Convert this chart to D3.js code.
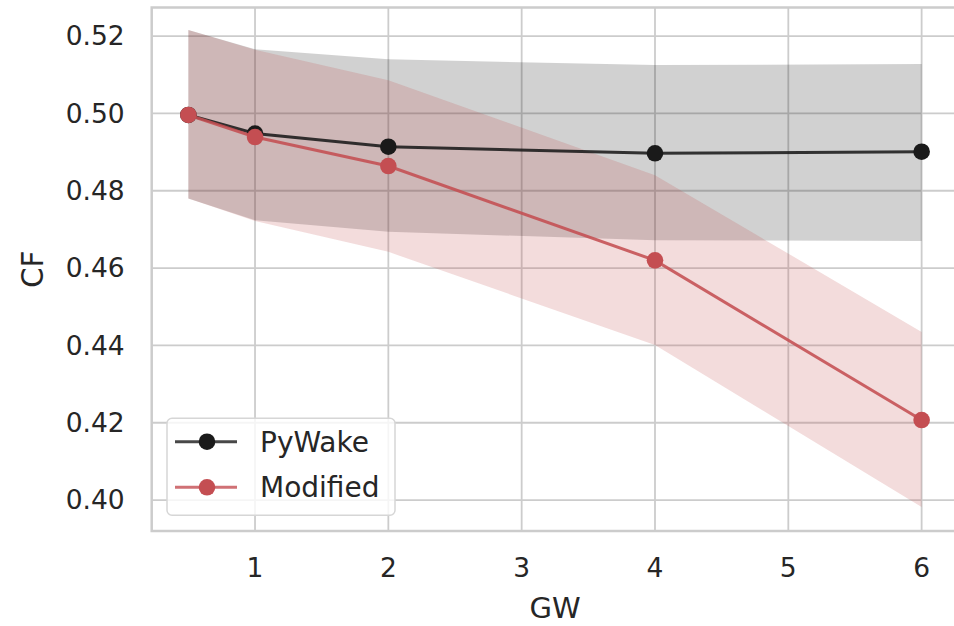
<!DOCTYPE html>
<html>
<head>
<meta charset="utf-8">
<script src="https://cdn.jsdelivr.net/npm/d3@7"></script>
<style>
  body { margin: 0; background: #fff; }
  text { font-family: "DejaVu Sans", sans-serif; fill: #262626; }
</style>
</head>
<body>
<div id="chart"></div>
<script>
// values
const gw = [0.5, 1, 2, 4, 6];
const pywakeMean  = [0.4996, 0.4948, 0.4914, 0.4897, 0.4901];
const pywakeUpper = [0.5216, 0.5166, 0.5140, 0.5125, 0.5128];
const pywakeLower = [0.4780, 0.4724, 0.4694, 0.4672, 0.4670];
const modMean  = [0.4996, 0.4939, 0.4864, 0.4620, 0.4207];
const modUpper = [0.5216, 0.5165, 0.5086, 0.4840, 0.4435];
const modLower = [0.4780, 0.4722, 0.4642, 0.4401, 0.3982];
const xTicks = [1, 2, 3, 4, 5, 6];
const yTicks = [0.40, 0.42, 0.44, 0.46, 0.48, 0.50, 0.52];
const seriesNames = ["PyWake", "Modified"];

const series = [
  {name: seriesNames[0], mean: pywakeMean, upper: pywakeUpper, lower: pywakeLower, color: "#1a1a1a", fill: "rgba(0,0,0,0.18)"},
  {name: seriesNames[1], mean: modMean, upper: modUpper, lower: modLower, color: "#c44e52", fill: "rgba(196,78,82,0.2)"}
];

const W = 954, H = 626;
const margin = {top: 7.5, right: -4.3, bottom: 95, left: 151.7};
const width = W - margin.left - margin.right;
const height = H - margin.top - margin.bottom;

const svg = d3.select("#chart").append("svg")
  .attr("width", W)
  .attr("height", H);

const g = svg.append("g")
  .attr("transform", "translate(" + margin.left + "," + margin.top + ")");

const x = d3.scaleLinear().domain([0.225, 6.275]).range([0, width]);
const y = d3.scaleLinear().domain([0.392, 0.5274]).range([height, 0]);

// grid
g.append("g")
  .selectAll("line.gx")
  .data(xTicks)
  .join("line")
  .attr("x1", d => x(d)).attr("x2", d => x(d))
  .attr("y1", 0).attr("y2", height)
  .style("stroke", "#cccccc")
  .style("stroke-width", 1.8);

g.append("g")
  .selectAll("line.gy")
  .data(yTicks)
  .join("line")
  .attr("x1", 0).attr("x2", width)
  .attr("y1", d => y(d)).attr("y2", d => y(d))
  .style("stroke", "#cccccc")
  .style("stroke-width", 1.8);

// bands
const area = d3.area()
  .x((d, i) => x(gw[i]))
  .y0(d => y(d[0]))
  .y1(d => y(d[1]));

series.forEach(s => {
  g.append("path")
    .datum(s.lower.map((v, i) => [v, s.upper[i]]))
    .attr("d", area)
    .style("fill", s.fill)
    .style("stroke", "none");
});

// lines + markers
const line = d3.line()
  .x((d, i) => x(gw[i]))
  .y(d => y(d));

series.forEach(s => {
  g.append("path")
    .datum(s.mean)
    .attr("d", line)
    .style("fill", "none")
    .style("stroke", s.color)
    .style("stroke-opacity", 0.88)
    .style("stroke-width", 3);

  g.selectAll(null)
    .data(s.mean)
    .join("circle")
    .attr("cx", (d, i) => x(gw[i]))
    .attr("cy", d => y(d))
    .attr("r", 8.3)
    .style("fill", s.color);
});

// frame
g.append("rect")
  .attr("width", width).attr("height", height)
  .style("fill", "none")
  .style("stroke", "#cccccc")
  .style("stroke-width", 2.5);

// tick labels
g.append("g")
  .selectAll("text")
  .data(xTicks)
  .join("text")
  .attr("x", d => x(d))
  .attr("y", height + 46)
  .attr("text-anchor", "middle")
  .style("font-size", "26.5px")
  .text(d => d);

g.append("g")
  .selectAll("text")
  .data(yTicks)
  .join("text")
  .attr("x", -27)
  .attr("y", d => y(d))
  .attr("dy", "0.35em")
  .attr("text-anchor", "end")
  .style("font-size", "26.5px")
  .text(d => d3.format(".2f")(d));

// axis titles
g.append("text")
  .attr("x", x(3.25))
  .attr("y", height + 86.5)
  .attr("text-anchor", "middle")
  .style("font-size", "29px")
  .text("GW");

g.append("text")
  .attr("transform", "translate(" + (-108.5) + "," + (height / 2) + ")rotate(-90)")
  .attr("text-anchor", "middle")
  .style("font-size", "29.5px")
  .text("CF");

// legend
const lg = svg.append("g").attr("transform", "translate(167,418.3)");
lg.append("rect")
  .attr("width", 228).attr("height", 97)
  .attr("rx", 5).attr("ry", 5)
  .style("fill", "rgba(255,255,255,0.8)")
  .style("stroke", "#d6d6d6")
  .style("stroke-width", 1.5);

series.forEach((s, i) => {
  const row = lg.append("g").attr("transform", "translate(0," + (23.4 + i * 45.6) + ")");
  row.append("line")
    .attr("x1", 8).attr("x2", 70)
    .style("stroke", s.color)
    .style("stroke-opacity", 0.8)
    .style("stroke-width", 3);
  row.append("circle")
    .attr("cx", 40).attr("r", 8.3)
    .style("fill", s.color);
  row.append("text")
    .attr("x", 93)
    .attr("dy", "0.35em")
    .style("font-size", "28px")
    .text(s.name);
});
</script>
</body>
</html>
